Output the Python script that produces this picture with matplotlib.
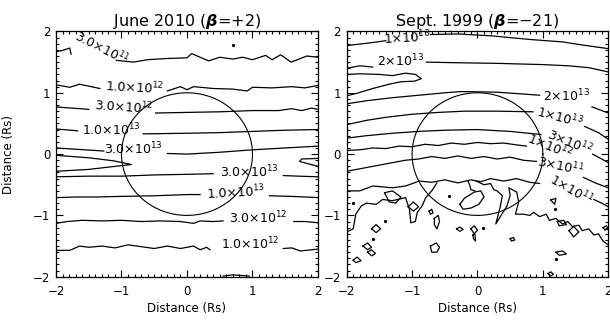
import numpy as np
import matplotlib
matplotlib.use("Agg")
import matplotlib.pyplot as plt
from matplotlib.ticker import MultipleLocator

nan = np.nan

# ---------------- data: June 2010 panel (contour lines) ----------------
jun_3e11a_x = [-2, -1.9, -1.79, -1.77, nan, -1.08, -0.82, -0.6, -0.3, 0.0, 0.07, 0.33, 0.5, 0.7, 0.85, 1.0, 1.2, 1.3, 1.43, 1.59, 1.83, 2.0]
jun_3e11a_y = [1.67, 1.69, 1.73, 1.63, nan, 1.53, 1.50, 1.54, 1.56, 1.57, 1.64, 1.52, 1.58, 1.55, 1.58, 1.54, 1.61, 1.54, 1.62, 1.50, 1.60, 1.58]
jun_1e12a_x = [-2, -1.79, -1.64, -1.33, nan, -0.3, -0.1, 0.0, 0.1, 0.4, 0.7, 0.92, 1.0, 1.3, 1.6, 1.8, 2.0]
jun_1e12a_y = [1.13, 1.09, 1.14, 1.07, nan, 1.03, 1.10, 1.05, 1.10, 1.07, 1.06, 1.03, 1.09, 1.08, 1.10, 1.08, 1.12]
jun_3e12a_x = [-2, -1.76, -1.5, nan, -0.48, 0.0, 0.5, 1.0, 1.4, 1.6, 1.75, 1.9, 2.0]
jun_3e12a_y = [0.77, 0.75, 0.73, nan, 0.67, 0.68, 0.69, 0.71, 0.71, 0.74, 0.71, 0.75, 0.73]
jun_1e13a_x = [-2, -1.67, nan, -0.67, 0.0, 0.5, 1.0, 1.5, 2.0]
jun_1e13a_y = [0.41, 0.38, nan, 0.33, 0.34, 0.35, 0.37, 0.39, 0.40]
jun_3e13a_x = [-2, -1.27, nan, -0.3, 0.0, 0.5, 1.0, 1.5, 2.0]
jun_3e13a_y = [0.10, 0.05, nan, 0.01, 0.0, 0.03, 0.07, 0.10, 0.13]
jun_3e13w_x = [-2, -1.5, -1.18, -0.85, -1.12, -1.5, -2]
jun_3e13w_y = [-0.28, -0.25, -0.21, -0.17, -0.11, -0.06, -0.02]
jun_3e13e_x = [2.0, 1.75, 1.72, 2.0]
jun_3e13e_y = [-0.07, -0.08, -0.12, -0.20]
jun_3e13b_x = [-2, -1.5, -1.0, -0.5, 0.0, 0.4, nan, 1.47, 1.7, 2.0]
jun_3e13b_y = [-0.37, -0.36, -0.36, -0.34, -0.33, -0.32, nan, -0.35, -0.36, -0.37]
jun_1e13b_x = [-2, -1.7, -1.4, -1.0, -0.5, 0.0, 0.2, nan, 1.26, 1.6, 2.0]
jun_1e13b_y = [-0.71, -0.70, -0.70, -0.69, -0.68, -0.66, -0.66, nan, -0.68, -0.69, -0.71]
jun_3e12b_x = [-2, -1.83, -1.6, -1.3, -1.0, -0.7, -0.4, -0.1, 0.1, 0.2, 0.4, 0.55, nan, 1.63, 1.8, 2.0]
jun_3e12b_y = [-1.13, -1.10, -1.08, -1.09, -1.08, -1.10, -1.09, -1.10, -1.13, -1.09, -1.10, -1.09, nan, -1.10, -1.10, -1.12]
jun_1e12b_x = [-2, -1.79, -1.64, -1.5, -1.3, -1.1, -0.9, -0.7, -0.5, -0.3, -0.1, 0.1, 0.2, 0.3, 0.35, nan, 1.47, 1.6, 1.73, 2.0]
jun_1e12b_y = [-1.57, -1.57, -1.50, -1.52, -1.50, -1.53, -1.48, -1.51, -1.54, -1.50, -1.54, -1.50, -1.56, -1.52, -1.56, nan, -1.54, -1.53, -1.58, -1.55]
jun_stub_x = [0.55, 0.7, 0.95]
jun_stub_y = [-1.99, -1.97, -1.99]
jun_dot_x = [0.7]
jun_dot_y = [1.78]

jun_label_text = [r"3.0×10$^{11}$", r"1.0×10$^{12}$", r"3.0×10$^{12}$", r"1.0×10$^{13}$", r"3.0×10$^{13}$",
                  r"3.0×10$^{13}$", r"1.0×10$^{13}$", r"3.0×10$^{12}$", r"1.0×10$^{12}$"]
jun_label_x = [-1.3, -0.8, -0.96, -1.16, -0.82, 0.95, 0.75, 1.09, 0.97]
jun_label_y = [1.72, 1.09, 0.76, 0.40, 0.08, -0.29, -0.62, -1.05, -1.47]
jun_label_rot = [-27, -3, -4, 0, 0, 0, 3, 0, 0]

# ---------------- data: Sept 1999 panel ----------------
sep_1e13a_x = [-2, -1.6, -1.4, nan, -0.72, -0.3, 0.2, 0.8, 1.3, 1.6, 2.0]
sep_1e13a_y = [1.77, 1.82, 1.85, nan, 1.95, 1.96, 1.93, 1.87, 1.83, 1.78, 1.72]
sep_2e13a_x = [-2, -1.8, -1.6, nan, -0.78, -0.3, 0.3, 1.0, 1.4, 1.7, 2.0]
sep_2e13a_y = [1.40, 1.44, 1.42, nan, 1.50, 1.49, 1.48, 1.46, 1.44, 1.41, 1.34]
sep_tongue_x = [-2, -1.8, -1.5, -1.3, -1.1, -0.95, -0.86, -0.96, -1.17, -1.35, -1.6, -1.85, -2]
sep_tongue_y = [1.30, 1.31, 1.30, 1.28, 1.32, 1.30, 1.23, 1.19, 1.18, 1.14, 1.07, 0.99, 0.95]
sep_2e13b_x = [-2, -1.7, -1.3, -0.9, -0.5, -0.25, 0.3, 0.7, 0.95, nan, 1.75, 1.9, 2.0]
sep_2e13b_y = [0.82, 0.87, 0.92, 0.96, 1.0, 1.02, 1.01, 0.98, 0.96, nan, 0.77, 0.71, 0.67]
sep_1e13b_x = [-2, -1.7, -1.4, -1.0, -0.6, -0.2, 0.3, 0.85, nan, 1.64, 1.85, 2.0]
sep_1e13b_y = [0.48, 0.55, 0.60, 0.65, 0.68, 0.70, 0.70, 0.69, nan, 0.45, 0.35, 0.24]
sep_3e12_x = [-2, -1.7, -1.3, -0.9, -0.5, 0.0, 0.5, 0.97, nan, 1.76, 1.9, 2.0]
sep_3e12_y = [0.26, 0.30, 0.34, 0.37, 0.39, 0.40, 0.37, 0.32, nan, 0.0, -0.08, -0.14]
sep_1e12_x = [-2, -1.8, -1.6, -1.4, -1.2, -1.0, -0.8, -0.6, -0.4, -0.2, 0.0, 0.2, 0.4, 0.6, 0.75]
sep_1e12_y = [0.06, 0.07, 0.10, 0.09, 0.13, 0.12, 0.16, 0.14, 0.18, 0.16, 0.19, 0.17, 0.18, 0.15, 0.13]
sep_3e11_x = [-2, -1.7, -1.4, -1.1, -0.9, -0.7, -0.5, -0.3, -0.1, 0.1, 0.3, 0.5, 0.7, 0.9, nan, 1.62, 1.8, 2.0]
sep_3e11_y = [-0.28, -0.22, -0.16, -0.10, -0.08, -0.04, -0.07, -0.03, -0.07, -0.04, -0.08, -0.05, -0.10, -0.12, nan, -0.38, -0.47, -0.55]
sep_1e11_x = [-2, -1.8, -1.6, -1.3, -1.1, -0.89, -0.7, -0.5, -0.3, -0.1, 0.05, 0.2, 0.4, 0.6, 0.8, 0.95, nan, 1.78, 1.9, 2.0]
sep_1e11_y = [-0.6, -0.6, -0.52, -0.55, -0.52, -0.44, -0.46, -0.42, -0.47, -0.42, -0.45, -0.40, -0.44, -0.40, -0.46, -0.48, nan, -0.74, -0.80, -0.86]
sep_noiseL_x = [-2, -1.9, -1.86, -1.78, -1.7, -1.55, -1.45, -1.3, -1.1, -1.04, -1.02, -0.95, -0.92, -0.85, -0.79, -0.7, -0.62]
sep_noiseL_y = [-1.27, -1.22, -0.98, -0.85, -0.80, -0.82, -0.74, -0.76, -0.71, -0.90, -1.12, -1.10, -0.95, -0.85, -0.71, -0.60, -0.47]
sep_noiseR_x = [-0.02, 0.1, 0.2, 0.25, 0.3, 0.38, 0.35, 0.28, 0.36, 0.45, 0.5, 0.48, 0.6, 0.63, 0.58, 0.7, 0.8, 0.86, 0.95, 1.05, 1.1, 1.2, 1.3, 1.38, 1.45, 1.55, 1.6, 1.7, 1.78, 1.85, 1.92, 2.0]
sep_noiseR_y = [-0.44, -0.50, -0.48, -0.58, -0.60, -0.68, -0.85, -1.14, -1.00, -0.85, -0.67, -0.55, -0.62, -0.78, -0.98, -0.98, -1.00, -0.95, -1.02, -0.98, -1.08, -1.05, -1.14, -1.10, -1.18, -1.16, -1.25, -1.22, -1.32, -1.30, -1.42, -1.48]
sep_stub_x = [-0.15, -0.12, -0.1, -0.04]
sep_stub_y = [-0.43, -0.50, -0.58, -0.60]
sep_loops_x = [
    [-1.42, -1.30, -1.17, -1.25, -1.35], [-1.06, -0.98, -0.90, -0.98], [-0.74, -0.70, -0.68, -0.72],
    [-0.66, -0.60, -0.58, -0.62, -0.66], [-1.62, -1.55, -1.48, -1.55], [-1.75, -1.68, -1.62, -1.68],
    [-1.68, -1.62, -1.56, -1.62], [-1.90, -1.84, -1.78, -1.86], [-0.72, -0.63, -0.58, -0.62, -0.70],
    [-0.32, -0.27, -0.22, -0.27], [-0.10, -0.05, 0.0, -0.05], [-0.07, -0.04, -0.03, -0.06],
    [0.50, 0.55, 0.57, 0.52], [1.20, 1.30, 1.36, 1.25], [1.08, 1.12, 1.16, 1.12],
    [1.12, 1.20, 1.18], [1.22, 1.32, 1.36, 1.25], [1.40, 1.47, 1.55, 1.47], [1.92, 1.97, 2.0, 1.95],
    [-0.27, -0.20, -0.05, 0.05, 0.10, 0.02, -0.10, -0.22],
]
sep_loops_y = [
    [-0.63, -0.60, -0.70, -0.80, -0.78], [-0.86, -0.78, -0.86, -0.93], [-0.93, -0.90, -0.96, -0.98],
    [-1.05, -1.00, -1.10, -1.22, -1.15], [-1.22, -1.15, -1.22, -1.28], [-1.50, -1.45, -1.52, -1.56],
    [-1.60, -1.56, -1.62, -1.66], [-1.73, -1.68, -1.74, -1.77], [-1.50, -1.45, -1.52, -1.60, -1.60],
    [-1.22, -1.19, -1.23, -1.26], [-1.22, -1.17, -1.24, -1.30], [-1.32, -1.30, -1.42, -1.38],
    [-1.38, -1.36, -1.40, -1.42], [-1.60, -1.58, -1.63, -1.65], [-1.95, -1.92, -1.96, -1.99],
    [-0.75, -0.72, -0.82], [-1.10, -1.08, -1.15, -1.17], [-1.25, -1.18, -1.27, -1.35], [-1.20, -1.17, -1.22, -1.24],
    [-0.82, -0.72, -0.62, -0.60, -0.70, -0.82, -0.88, -0.90],
]
sep_dot_x = [-1.91, -1.42, -1.6, -0.43, 0.08, 1.18, 1.2]
sep_dot_y = [-0.79, -1.09, -1.38, -0.68, -1.2, -0.9, -1.71]

sep_label_text = [r"1×10$^{13}$", r"2×10$^{13}$", r"2×10$^{13}$", r"1×10$^{13}$", r"3×10$^{12}$",
                  r"1×10$^{12}$", r"3×10$^{11}$", r"1×10$^{11}$"]
sep_label_x = [-1.07, -1.18, 1.36, 1.25, 1.41, 1.10, 1.27, 1.44]
sep_label_y = [1.90, 1.52, 0.95, 0.60, 0.20, 0.12, -0.19, -0.58]
sep_label_rot = [3, 0, 0, -15, -22, -22, -12, -30]

axis_ticks = [-2, -1, 0, 1, 2]
SUN_RADIUS = 1.0

panels = [
    dict(title=r"June 2010 ($\mathbfit{\beta}$=+2)",
         lines=[(jun_3e11a_x, jun_3e11a_y), (jun_1e12a_x, jun_1e12a_y), (jun_3e12a_x, jun_3e12a_y),
                (jun_1e13a_x, jun_1e13a_y), (jun_3e13a_x, jun_3e13a_y), (jun_3e13w_x, jun_3e13w_y),
                (jun_3e13e_x, jun_3e13e_y), (jun_3e13b_x, jun_3e13b_y), (jun_1e13b_x, jun_1e13b_y),
                (jun_3e12b_x, jun_3e12b_y), (jun_1e12b_x, jun_1e12b_y), (jun_stub_x, jun_stub_y)],
         loops=([], []), dots=(jun_dot_x, jun_dot_y),
         labels=(jun_label_text, jun_label_x, jun_label_y, jun_label_rot), ylabel=True),
    dict(title=r"Sept. 1999 ($\mathbfit{\beta}$=$-$21)",
         lines=[(sep_1e13a_x, sep_1e13a_y), (sep_2e13a_x, sep_2e13a_y), (sep_tongue_x, sep_tongue_y),
                (sep_2e13b_x, sep_2e13b_y), (sep_1e13b_x, sep_1e13b_y), (sep_3e12_x, sep_3e12_y),
                (sep_1e12_x, sep_1e12_y), (sep_3e11_x, sep_3e11_y), (sep_1e11_x, sep_1e11_y),
                (sep_noiseL_x, sep_noiseL_y), (sep_noiseR_x, sep_noiseR_y), (sep_stub_x, sep_stub_y)],
         loops=(sep_loops_x, sep_loops_y), dots=(sep_dot_x, sep_dot_y),
         labels=(sep_label_text, sep_label_x, sep_label_y, sep_label_rot), ylabel=False),
]

fig = plt.figure(figsize=(6.1, 3.2), dpi=100)
rects = [[0.0918, 0.1353, 0.4295, 0.7663], [0.5683, 0.1353, 0.4289, 0.7663]]
LW = 0.9
for rect, p in zip(rects, panels):
    ax = fig.add_axes(rect)
    for x, y in p["lines"]:
        ax.plot(x, y, color="k", lw=LW)
    for lx, ly in zip(*p["loops"]):
        ax.plot(lx + [lx[0]], ly + [ly[0]], color="k", lw=LW)
    ax.plot(p["dots"][0], p["dots"][1], ls="none", marker="o", ms=1.3, color="k")
    for t, x, y, r in zip(*p["labels"]):
        ax.text(x, y, t, rotation=r, ha="center", va="center", fontsize=9,
                rotation_mode="anchor")
    th = np.linspace(0, 2 * np.pi, 300)
    ax.plot(SUN_RADIUS * np.cos(th), SUN_RADIUS * np.sin(th), color="k", lw=0.8)
    ax.set_xlim(-2, 2)
    ax.set_ylim(-2, 2)
    ax.set_xticks(axis_ticks)
    ax.set_yticks(axis_ticks)
    ax.xaxis.set_minor_locator(MultipleLocator(0.1))
    ax.yaxis.set_minor_locator(MultipleLocator(0.1))
    ax.tick_params(which="both", direction="in", top=True, right=True, width=0.8,
                   labelsize=8.5)
    ax.tick_params(which="major", length=5)
    ax.tick_params(which="minor", length=2.5)
    ax.tick_params(axis="x", pad=6)
    ax.tick_params(axis="y", pad=4)
    for s in ax.spines.values():
        s.set_linewidth(0.9)
    ax.set_title(p["title"], fontsize=11.5, pad=4)
    ax.set_xlabel("Distance (Rs)", fontsize=8.5)
    ax.xaxis.set_label_coords(0.5, -0.105)
    if p["ylabel"]:
        ax.set_ylabel("Distance (Rs)", fontsize=8.5)
        ax.yaxis.set_label_coords(-0.157, 0.5)

fig.savefig("out.png", dpi=100)
